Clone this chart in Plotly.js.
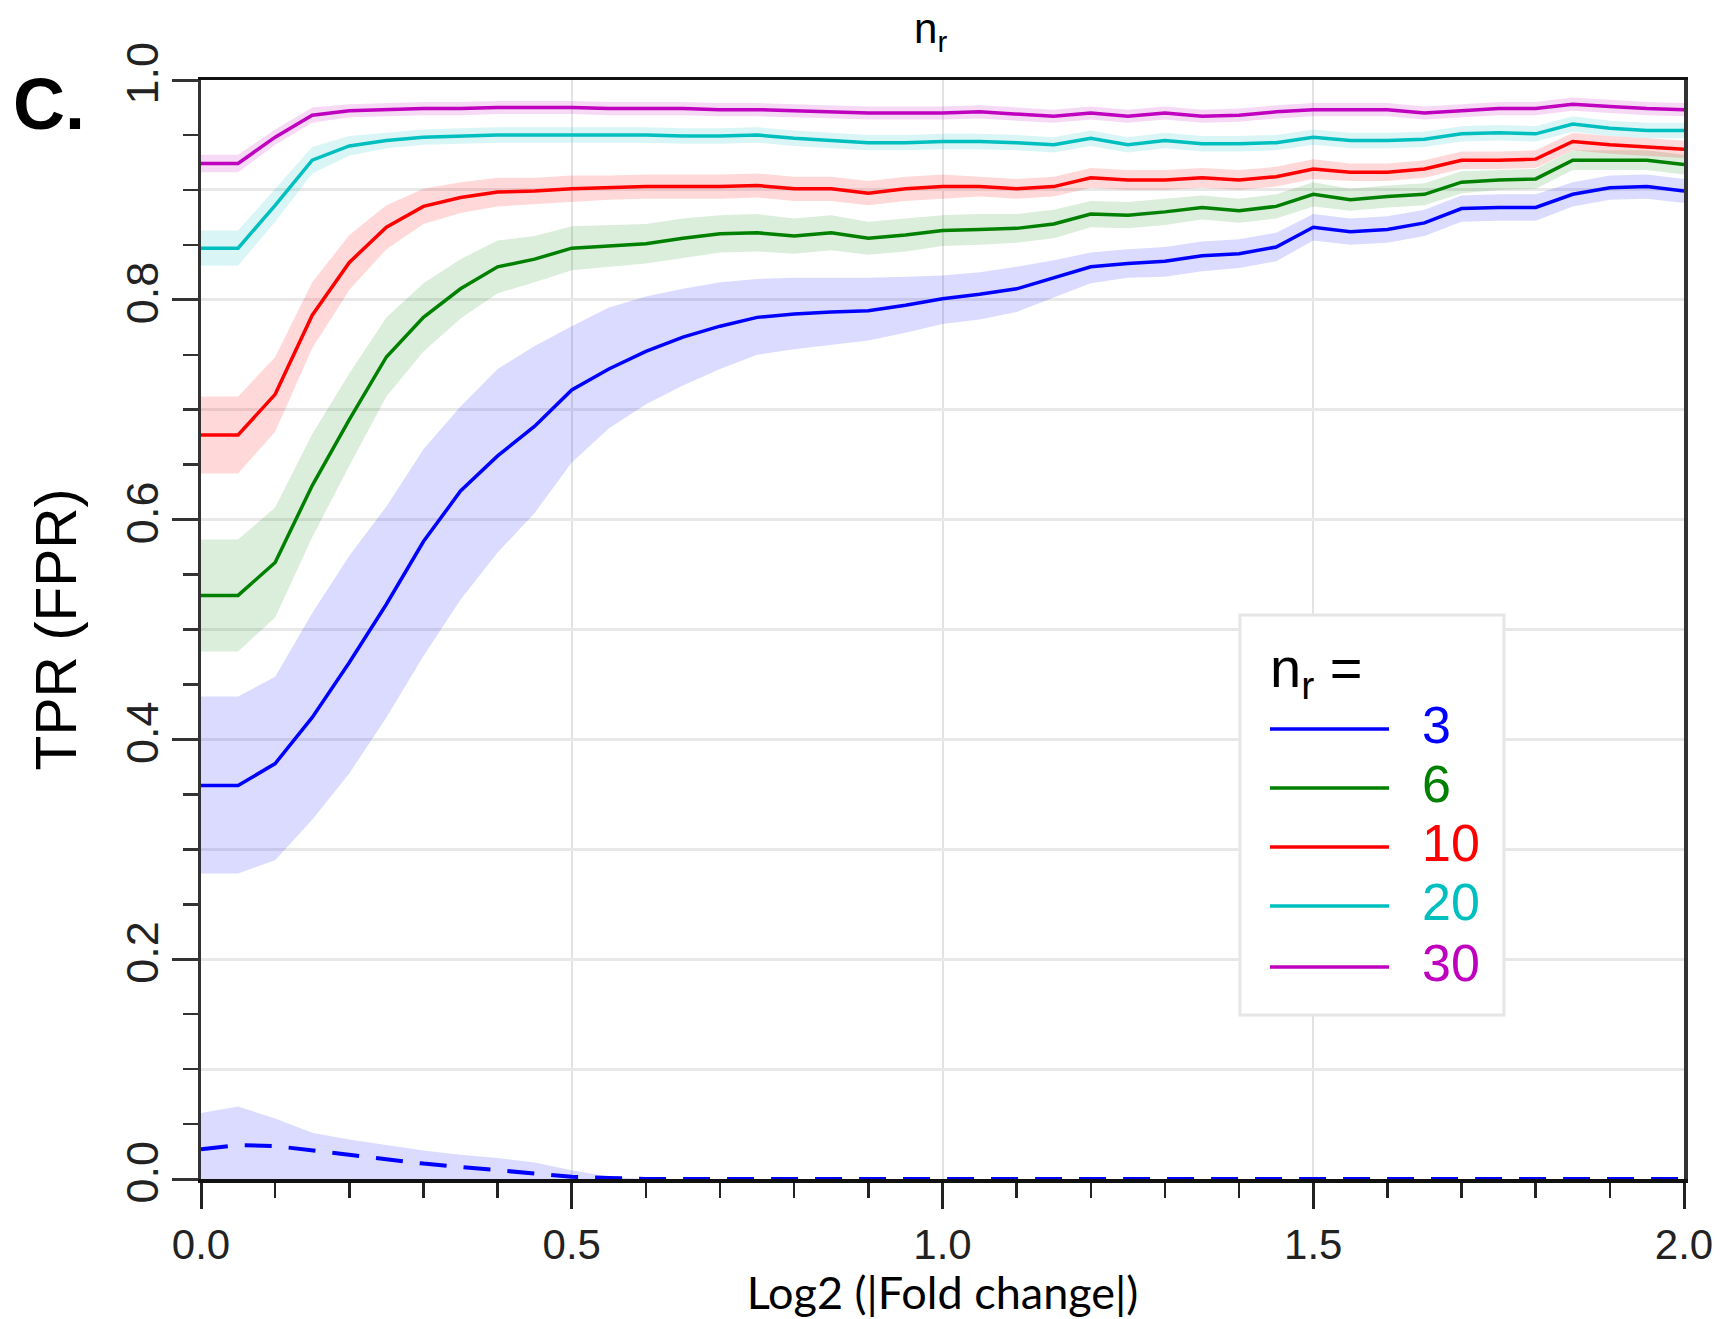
<!DOCTYPE html>
<html>
<head>
<meta charset="utf-8">
<script src="https://cdn.plot.ly/plotly-3.0.1.min.js"></script>
<style>html,body{margin:0;padding:0;background:#fff;}#chart{width:1721px;height:1319px;}</style>
</head>
<body>
<div id="chart"></div>
<script>
// Log2(|fold change|)
const foldChange = [0,0.05,0.1,0.15,0.2,0.25,0.3,0.35,0.4,0.45,0.5,0.55,0.6,0.65,0.7,0.75,0.8,0.85,0.9,0.95,1.0,1.05,1.1,1.15,1.2,1.25,1.3,1.35,1.4,1.45,1.5,1.55,1.6,1.65,1.7,1.75,1.8,1.85,1.9,1.95,2.0];

const seriesNames = ['3','6','10','20','30'];
const seriesColors = ['#0000ff','#008000','#ff0000','#00bfbf','#bf00bf'];
const bandColors = ['rgba(0,0,255,0.14)','rgba(0,128,0,0.14)','rgba(255,0,0,0.15)','rgba(0,190,190,0.15)','rgba(190,0,190,0.15)'];

// TPR, n_r = 3
const tpr3 = [0.358,0.358,0.378,0.420,0.470,0.523,0.580,0.626,0.658,0.685,0.718,0.737,0.753,0.766,0.776,0.784,0.787,0.789,0.790,0.795,0.801,0.805,0.810,0.820,0.830,0.833,0.835,0.840,0.842,0.848,0.866,0.862,0.864,0.870,0.883,0.884,0.884,0.896,0.902,0.903,0.899];
const tpr3Upper = [0.439,0.439,0.457,0.515,0.567,0.612,0.664,0.703,0.737,0.758,0.776,0.793,0.803,0.810,0.816,0.819,0.820,0.820,0.820,0.821,0.822,0.825,0.830,0.836,0.843,0.846,0.848,0.853,0.855,0.861,0.878,0.874,0.876,0.882,0.895,0.896,0.896,0.907,0.913,0.914,0.910];
const tpr3Lower = [0.278,0.278,0.290,0.327,0.369,0.420,0.476,0.527,0.570,0.606,0.652,0.683,0.705,0.722,0.737,0.750,0.755,0.759,0.763,0.770,0.778,0.782,0.789,0.802,0.815,0.820,0.821,0.826,0.829,0.835,0.854,0.850,0.852,0.858,0.871,0.872,0.872,0.885,0.891,0.892,0.888];

// TPR, n_r = 6
const tpr6 = [0.531,0.531,0.561,0.631,0.691,0.748,0.784,0.810,0.830,0.837,0.847,0.849,0.851,0.856,0.860,0.861,0.858,0.861,0.856,0.859,0.863,0.864,0.865,0.869,0.878,0.877,0.880,0.884,0.881,0.885,0.896,0.891,0.894,0.896,0.907,0.909,0.910,0.927,0.927,0.927,0.923];
const tpr6Upper = [0.582,0.582,0.611,0.678,0.733,0.784,0.815,0.837,0.854,0.858,0.867,0.868,0.869,0.874,0.877,0.878,0.874,0.877,0.871,0.874,0.877,0.878,0.878,0.882,0.890,0.889,0.892,0.895,0.892,0.896,0.907,0.901,0.904,0.906,0.917,0.918,0.919,0.936,0.936,0.936,0.932];
const tpr6Lower = [0.480,0.480,0.511,0.584,0.649,0.712,0.753,0.783,0.806,0.816,0.827,0.830,0.833,0.838,0.843,0.844,0.842,0.845,0.841,0.844,0.849,0.850,0.852,0.856,0.866,0.865,0.868,0.873,0.870,0.874,0.885,0.881,0.884,0.886,0.897,0.900,0.901,0.918,0.918,0.918,0.914];

// TPR, n_r = 10
const tpr10 = [0.677,0.677,0.714,0.786,0.834,0.866,0.885,0.893,0.898,0.899,0.901,0.902,0.903,0.903,0.903,0.904,0.901,0.901,0.897,0.901,0.903,0.903,0.901,0.903,0.911,0.909,0.909,0.911,0.909,0.912,0.919,0.916,0.916,0.919,0.927,0.927,0.928,0.944,0.941,0.939,0.937];
const tpr10Upper = [0.712,0.712,0.748,0.816,0.859,0.886,0.901,0.907,0.911,0.911,0.913,0.913,0.914,0.914,0.914,0.915,0.912,0.912,0.908,0.912,0.914,0.912,0.910,0.912,0.920,0.918,0.918,0.920,0.918,0.921,0.928,0.924,0.924,0.927,0.935,0.935,0.936,0.952,0.949,0.947,0.945];
const tpr10Lower = [0.642,0.642,0.680,0.756,0.809,0.846,0.869,0.879,0.885,0.887,0.889,0.891,0.892,0.892,0.892,0.893,0.890,0.890,0.886,0.890,0.892,0.894,0.892,0.894,0.902,0.900,0.900,0.902,0.900,0.903,0.910,0.908,0.908,0.911,0.919,0.919,0.920,0.936,0.933,0.931,0.929];

// TPR, n_r = 20
const tpr20 = [0.847,0.847,0.886,0.927,0.940,0.945,0.948,0.949,0.950,0.950,0.950,0.950,0.950,0.949,0.949,0.950,0.947,0.945,0.943,0.943,0.944,0.944,0.943,0.941,0.947,0.941,0.945,0.942,0.942,0.943,0.948,0.945,0.945,0.946,0.951,0.952,0.951,0.960,0.956,0.954,0.954];
const tpr20Upper = [0.863,0.863,0.901,0.939,0.949,0.952,0.955,0.956,0.957,0.957,0.957,0.957,0.957,0.956,0.956,0.957,0.954,0.952,0.950,0.950,0.951,0.951,0.950,0.948,0.954,0.948,0.952,0.949,0.949,0.950,0.955,0.952,0.952,0.953,0.958,0.959,0.958,0.967,0.963,0.961,0.961];
const tpr20Lower = [0.831,0.831,0.871,0.915,0.931,0.938,0.941,0.942,0.943,0.943,0.943,0.943,0.943,0.942,0.942,0.943,0.940,0.938,0.936,0.936,0.937,0.937,0.936,0.934,0.940,0.934,0.938,0.935,0.935,0.936,0.941,0.938,0.938,0.939,0.944,0.945,0.944,0.953,0.949,0.947,0.947];

// TPR, n_r = 30
const tpr30 = [0.924,0.924,0.948,0.968,0.972,0.973,0.974,0.974,0.975,0.975,0.975,0.974,0.974,0.974,0.973,0.973,0.972,0.971,0.970,0.970,0.970,0.971,0.969,0.967,0.970,0.967,0.970,0.967,0.968,0.971,0.973,0.973,0.973,0.970,0.972,0.974,0.974,0.978,0.976,0.974,0.973];
const tpr30Upper = [0.932,0.932,0.955,0.975,0.978,0.979,0.980,0.980,0.981,0.981,0.981,0.980,0.980,0.980,0.979,0.979,0.978,0.977,0.976,0.976,0.976,0.977,0.975,0.973,0.976,0.973,0.976,0.973,0.974,0.977,0.979,0.979,0.979,0.976,0.978,0.980,0.980,0.984,0.982,0.980,0.979];
const tpr30Lower = [0.916,0.916,0.941,0.961,0.966,0.967,0.968,0.968,0.969,0.969,0.969,0.968,0.968,0.968,0.967,0.967,0.966,0.965,0.964,0.964,0.964,0.965,0.963,0.961,0.964,0.961,0.964,0.961,0.962,0.965,0.967,0.967,0.967,0.964,0.966,0.968,0.968,0.972,0.970,0.968,0.967];

// FPR, n_r = 3 (dashed)
const fpr3 = [0.027,0.031,0.030,0.026,0.022,0.018,0.014,0.011,0.008,0.005,0.002,0.001,0,0,0,0,0,0,0,0,0,0,0,0,0,0,0,0,0,0,0,0,0,0,0,0,0,0,0,0,0];
const fpr3Upper = [0.060,0.066,0.055,0.042,0.036,0.031,0.026,0.022,0.019,0.015,0.008,0.002,0,0,0,0,0,0,0,0,0,0,0,0,0,0,0,0,0,0,0,0,0,0,0,0,0,0,0,0,0];
const fpr3Lower = [0,0,0,0,0,0,0,0,0,0,0,0,0,0,0,0,0,0,0,0,0,0,0,0,0,0,0,0,0,0,0,0,0,0,0,0,0,0,0,0,0];

const tprLines = [tpr3, tpr6, tpr10, tpr20, tpr30];
const tprUppers = [tpr3Upper, tpr6Upper, tpr10Upper, tpr20Upper, tpr30Upper];
const tprLowers = [tpr3Lower, tpr6Lower, tpr10Lower, tpr20Lower, tpr30Lower];

const traces = [];
// confidence bands
for (let i = 0; i < tprLines.length; i++) {
  traces.push({x: foldChange, y: tprLowers[i], type: 'scatter', mode: 'lines', line: {width: 0, color: seriesColors[i]}, hoverinfo: 'skip', showlegend: false});
  traces.push({x: foldChange, y: tprUppers[i], type: 'scatter', mode: 'lines', fill: 'tonexty', fillcolor: bandColors[i], line: {width: 0, color: seriesColors[i]}, hoverinfo: 'skip', showlegend: false});
}
// mean TPR lines
for (let i = 0; i < tprLines.length; i++) {
  traces.push({x: foldChange, y: tprLines[i], type: 'scatter', mode: 'lines', name: 'n_r = ' + seriesNames[i], line: {width: 3.5, color: seriesColors[i]}, showlegend: false});
}
// FPR band and dashed line (on overlay axis that also carries the odd gridlines)
traces.push({x: foldChange, y: fpr3Lower, yaxis: 'y2', type: 'scatter', mode: 'lines', line: {width: 0, color: seriesColors[0]}, hoverinfo: 'skip', showlegend: false});
traces.push({x: foldChange, y: fpr3Upper, yaxis: 'y2', type: 'scatter', mode: 'lines', fill: 'tonexty', fillcolor: bandColors[0], line: {width: 0, color: seriesColors[0]}, hoverinfo: 'skip', showlegend: false});
traces.push({x: foldChange, y: fpr3, yaxis: 'y2', type: 'scatter', mode: 'lines', name: 'FPR n_r = 3', line: {width: 4, color: seriesColors[0], dash: '27px,17px'}, showlegend: false});

// custom legend built from series
const L = {x0: 0.7208, x1: 0.8011, xText: 0.822};
const legendLineY = [0.4095, 0.3558, 0.3021, 0.2484, 0.1929];
const shapes = [{type: 'rect', xref: 'paper', yref: 'paper', x0: 0.7006, x1: 0.8786, y0: 0.1492, y1: 0.5132, line: {color: '#e6e6e6', width: 3}, fillcolor: '#ffffff', layer: 'above'}];
const annotations = [];
for (let i = 0; i < seriesNames.length; i++) {
  shapes.push({type: 'line', xref: 'paper', yref: 'paper', x0: L.x0, x1: L.x1, y0: legendLineY[i], y1: legendLineY[i], line: {color: seriesColors[i], width: 3.5}, layer: 'above'});
  annotations.push({xref: 'paper', yref: 'paper', x: L.xText, y: legendLineY[i] + 0.004, xanchor: 'left', yanchor: 'middle', showarrow: false, text: seriesNames[i], font: {family: 'Liberation Sans, Arial, sans-serif', size: 52, color: seriesColors[i]}});
}
annotations.push({xref: 'paper', yref: 'paper', x: 0.7195, y: 0.462, xanchor: 'left', yanchor: 'middle', showarrow: false, text: 'n<sub>r</sub> =', font: {family: 'Liberation Sans, Arial, sans-serif', size: 56, color: '#000'}});
annotations.push({xref: 'paper', yref: 'paper', x: -0.1281, y: 0.978, xanchor: 'left', yanchor: 'middle', showarrow: false, text: '<b>C.</b>', font: {family: 'Liberation Sans, Arial, sans-serif', size: 72, color: '#000'}});

const xTickFont = {family: 'Liberation Sans, Arial, sans-serif', size: 42, color: '#222'};
const yTickFont = {family: 'Liberation Sans, Arial, sans-serif', size: 45, color: '#222'};

const layout = {
  width: 1721, height: 1319,
  margin: {l: 201, r: 37, t: 80, b: 140, pad: 0},
  paper_bgcolor: '#fff', plot_bgcolor: '#fff',
  showlegend: false,
  title: {text: 'n<sub>r</sub>', font: {family: 'Liberation Sans, Arial, sans-serif', size: 42, color: '#000'}, xref: 'paper', x: 0.492, xanchor: 'center', yref: 'container', y: 0.9675, yanchor: 'bottom'},
  xaxis: {
    range: [0, 2], dtick: 0.5, tick0: 0, tickformat: '.1f', automargin: false,
    ticks: 'outside', ticklen: 26, tickwidth: 3, tickcolor: '#222',
    showline: true, linecolor: '#111', linewidth: 3.5, mirror: true,
    showgrid: true, gridcolor: '#e3e3e3', gridwidth: 2, zeroline: false,
    tickfont: xTickFont,
    minor: {dtick: 0.1, tick0: 0, ticks: 'outside', ticklen: 15, tickwidth: 2.5, tickcolor: '#222', showgrid: false},
    title: {text: 'Log2 (|Fold change|)', font: {family: 'Lato, "Open Sans", sans-serif', size: 45, color: '#000'}, standoff: 22}
  },
  yaxis: {
    range: [0, 1], dtick: 0.2, tick0: 0, tickformat: '.1f', automargin: false,
    ticks: 'outside', ticklen: 26, tickwidth: 3, tickcolor: '#333', tickangle: -90, ticklabelstandoff: -4,
    showline: true, linecolor: '#333', linewidth: 3.5, mirror: true,
    showgrid: true, gridcolor: '#e8e8e8', gridwidth: 3, zeroline: false,
    tickfont: yTickFont,
    minor: {dtick: 0.05, tick0: 0, ticks: 'outside', ticklen: 15, tickwidth: 2.5, tickcolor: '#333', showgrid: false},
    title: {text: 'TPR (FPR)', font: {family: 'Liberation Sans, Arial, sans-serif', size: 57, color: '#000'}, standoff: 22}
  },
  yaxis2: {
    overlaying: 'y', anchor: 'x', side: 'left', range: [0, 1], automargin: false,
    tickvals: [0.1, 0.3, 0.5, 0.7, 0.9], showticklabels: false, ticks: '',
    showgrid: true, gridcolor: '#e8e8e8', gridwidth: 3, zeroline: false, showline: false
  },
  shapes: shapes,
  annotations: annotations
};

Plotly.newPlot('chart', traces, layout, {staticPlot: true, displayModeBar: false});
</script>
</body>
</html>
